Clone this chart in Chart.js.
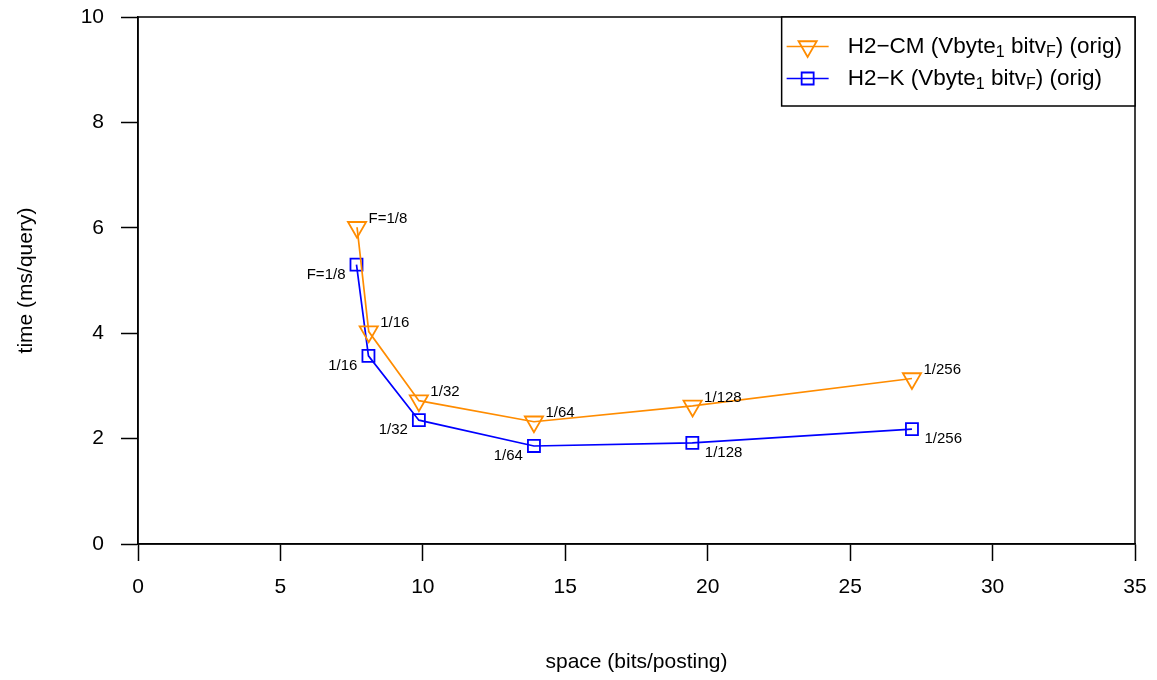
<!DOCTYPE html>
<html>
<head>
<meta charset="utf-8">
<script src="https://cdn.jsdelivr.net/npm/chart.js@4.4.0/dist/chart.umd.min.js"></script>
<style>
  html, body { margin: 0; padding: 0; background: #fff; }
  #wrap { width: 1157px; height: 680px; }
</style>
</head>
<body>
<div id="wrap"><canvas id="chart" width="1157" height="680"></canvas></div>
<script>
// series names (_{..} marks a subscript)
const seriesNames = ['H2\u2212CM (Vbyte_{1} bitv_{F}) (orig)', 'H2\u2212K (Vbyte_{1} bitv_{F}) (orig)'];

// H2-CM
const cmSpace = [7.69, 8.10, 9.86, 13.90, 19.47, 27.17];
const cmTime  = [6.01, 4.03, 2.72, 2.32, 2.62, 3.14];
// H2-K
const kSpace = [7.67, 8.09, 9.86, 13.90, 19.46, 27.17];
const kTime  = [5.30, 3.57, 2.35, 1.86, 1.92, 2.18];

const cmLabels = ['F=1/8', '1/16', '1/32', '1/64', '1/128', '1/256'];
const kLabels  = ['F=1/8', '1/16', '1/32', '1/64', '1/128', '1/256'];

const xTicks = [0, 5, 10, 15, 20, 25, 30, 35];
const yTicks = [0, 2, 4, 6, 8, 10];

const ORANGE = '#FF8C00';
const BLUE = '#0000FF';
const FONT = '"Liberation Sans", Arial, Helvetica, sans-serif';

function richParts(s) {
    const parts = [];
    const re = /_\{([^}]*)\}/g;
    let last = 0, m;
    while ((m = re.exec(s))) {
        if (m.index > last) parts.push({ t: s.slice(last, m.index), sub: false });
        parts.push({ t: m[1], sub: true });
        last = re.lastIndex;
    }
    if (last < s.length) parts.push({ t: s.slice(last), sub: false });
    return parts;
}

function drawRich(ctx, s, x, y, size) {
    const subSize = Math.round(size * 0.7);
    let cx = x;
    richParts(s).forEach(p => {
        ctx.font = (p.sub ? subSize : size) + 'px ' + FONT;
        ctx.fillText(p.t, cx, p.sub ? y + size * 0.28 : y);
        cx += ctx.measureText(p.t).width;
    });
    return cx - x;
}

function measureRich(ctx, s, size) {
    const subSize = Math.round(size * 0.7);
    let w = 0;
    richParts(s).forEach(p => {
        ctx.font = (p.sub ? subSize : size) + 'px ' + FONT;
        w += ctx.measureText(p.t).width;
    });
    return w;
}

// full box around the plot region
const boxPlugin = {
    id: 'plotBox',
    afterDraw(chart) {
        const { ctx, chartArea: a } = chart;
        ctx.save();
        ctx.strokeStyle = '#000';
        ctx.lineWidth = 1.5;
        ctx.strokeRect(a.left, a.top, a.right - a.left, a.bottom - a.top);
        ctx.restore();
    }
};

// F labels next to each point
const pointLabelPlugin = {
    id: 'pointLabels',
    afterDatasetsDraw(chart) {
        const ctx = chart.ctx;
        ctx.save();
        ctx.font = '15px ' + FONT;
        ctx.fillStyle = '#000';
        ctx.textBaseline = 'middle';
        chart.data.datasets.forEach((ds, di) => {
            const meta = chart.getDatasetMeta(di);
            meta.data.forEach((pt, i) => {
                const txt = ds.pointText[i];
                if (di === 0) {
                    ctx.textAlign = 'left';
                    ctx.fillText(txt, pt.x + 11.5, pt.y - 8.5);
                } else if (ds.data[i].x < 15) {
                    ctx.textAlign = 'right';
                    ctx.fillText(txt, pt.x - 11, pt.y + 10);
                } else {
                    ctx.textAlign = 'left';
                    ctx.fillText(txt, pt.x + 12.5, pt.y + 10);
                }
            });
        });
        ctx.restore();
    }
};

// legend box, top right inside the plot
const legendPlugin = {
    id: 'rLegend',
    afterDraw(chart) {
        const { ctx, chartArea: a } = chart;
        const size = 22.5;
        const textW = Math.max(...chart.data.datasets.map(d => measureRich(ctx, d.label, size)));
        const w = 66 + textW + 13;
        const h = 89;
        const left = a.right - w, top = a.top;
        ctx.save();
        ctx.fillStyle = '#fff';
        ctx.fillRect(left, top, w, h);
        ctx.strokeStyle = '#000';
        ctx.lineWidth = 1.5;
        ctx.strokeRect(left, top, w, h);
        chart.data.datasets.forEach((ds, i) => {
            const y = top + 29.5 + i * 32;
            ctx.strokeStyle = ds.borderColor;
            ctx.lineWidth = ds.borderWidth;
            ctx.beginPath();
            ctx.moveTo(left + 5, y);
            ctx.lineTo(left + 47, y);
            ctx.stroke();
            ctx.fillStyle = 'rgba(0,0,0,0)';
            ctx.lineWidth = ds.pointBorderWidth;
            Chart.helpers.drawPoint(ctx, {
                pointStyle: ds.pointStyle,
                rotation: ds.pointRotation || 0,
                radius: ds.pointRadius,
                borderWidth: ds.pointBorderWidth
            }, left + 26, y);
            ctx.fillStyle = '#000';
            ctx.textBaseline = 'middle';
            ctx.textAlign = 'left';
            drawRich(ctx, ds.label, left + 66, y, size);
        });
        ctx.restore();
    }
};

const tickFont = { family: FONT, size: 21 };

new Chart(document.getElementById('chart').getContext('2d'), {
    type: 'scatter',
    data: {
        datasets: [
            {
                label: seriesNames[0],
                data: cmSpace.map((x, i) => ({ x: x, y: cmTime[i] })),
                pointText: cmLabels,
                showLine: true,
                borderColor: ORANGE,
                backgroundColor: 'rgba(0,0,0,0)',
                pointBackgroundColor: 'rgba(0,0,0,0)',
                borderWidth: 1.7,
                pointBorderWidth: 1.8,
                pointStyle: 'triangle',
                pointRotation: 180,
                pointRadius: 10.5,
                tension: 0
            },
            {
                label: seriesNames[1],
                data: kSpace.map((x, i) => ({ x: x, y: kTime[i] })),
                pointText: kLabels,
                showLine: true,
                borderColor: BLUE,
                backgroundColor: 'rgba(0,0,0,0)',
                pointBackgroundColor: 'rgba(0,0,0,0)',
                borderWidth: 1.7,
                pointBorderWidth: 1.8,
                pointStyle: 'rect',
                pointRadius: 8.5,
                tension: 0
            }
        ]
    },
    options: {
        responsive: false,
        animation: false,
        layout: { padding: { top: 17, right: 22, left: 0, bottom: 0 } },
        plugins: {
            legend: { display: false },
            tooltip: { enabled: false }
        },
        scales: {
            x: {
                type: 'linear',
                min: 0,
                max: 35,
                afterBuildTicks: s => { s.ticks = xTicks.map(v => ({ value: v })); },
                afterFit: s => { s.height = 136; s.paddingLeft = 0; s.paddingRight = 0; },
                grid: { drawOnChartArea: false, tickLength: 17, tickColor: '#000', tickWidth: 1.5 },
                border: { display: true, color: '#000', width: 1.5 },
                ticks: { color: '#000', font: tickFont, padding: 14, maxRotation: 0 },
                title: { display: true, text: 'space (bits/posting)', color: '#000', font: tickFont, padding: { top: 0, bottom: 5 } }
            },
            y: {
                type: 'linear',
                min: 0,
                max: 10,
                afterBuildTicks: s => { s.ticks = yTicks.map(v => ({ value: v })); },
                afterFit: s => { s.width = 138; s.paddingTop = 0; s.paddingBottom = 0; },
                grid: { drawOnChartArea: false, tickLength: 17, tickColor: '#000', tickWidth: 1.5 },
                border: { display: true, color: '#000', width: 1.5 },
                ticks: { color: '#000', font: tickFont, padding: 17 },
                title: { display: true, text: 'time (ms/query)', color: '#000', font: tickFont, padding: { top: 14, bottom: 0 } }
            }
        }
    },
    plugins: [boxPlugin, pointLabelPlugin, legendPlugin]
});
</script>
</body>
</html>
